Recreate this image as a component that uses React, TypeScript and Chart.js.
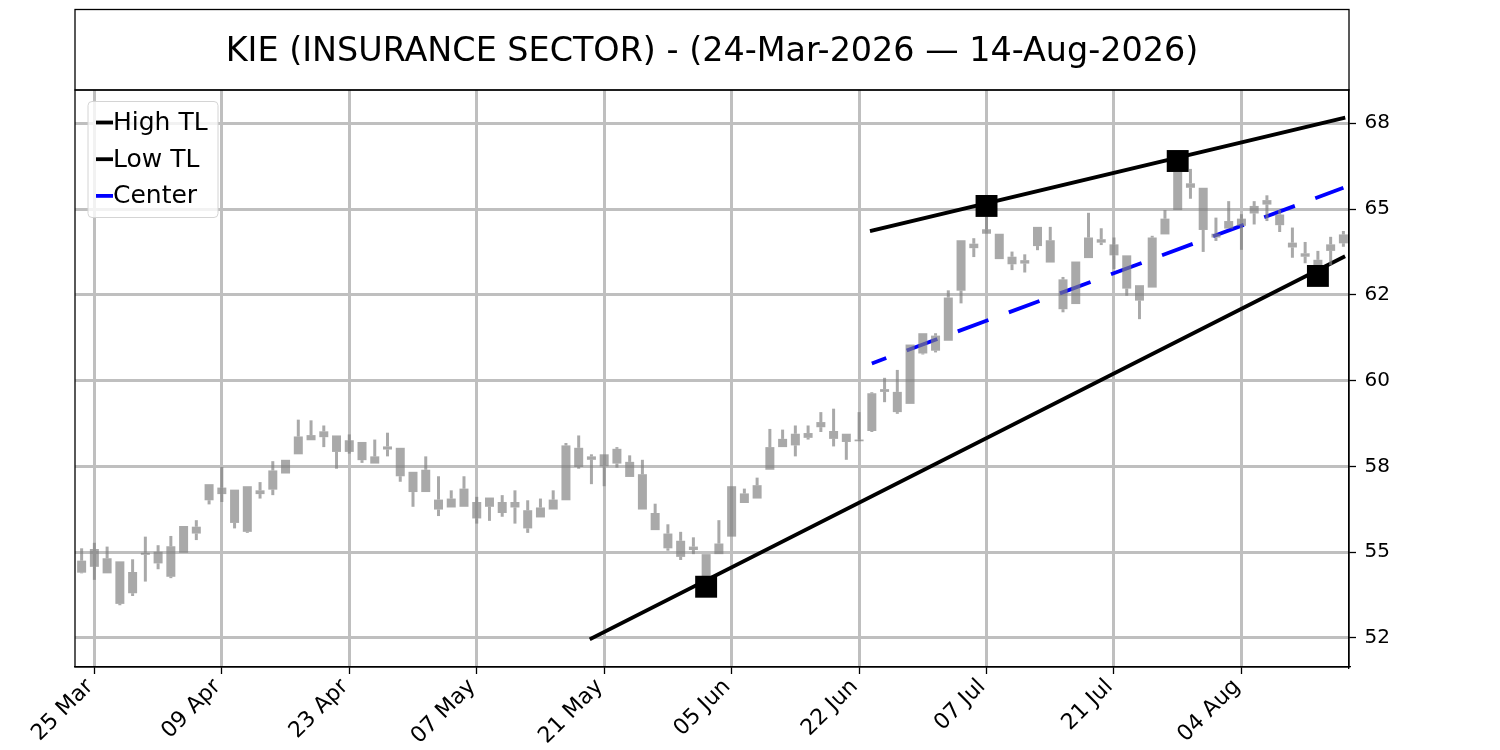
import React, { useEffect, useRef } from "react";
import { Chart, registerables } from "chart.js";

Chart.register(...registerables);

const TITLE = "KIE (INSURANCE SECTOR) - (24-Mar-2026 — 14-Aug-2026)";

const dates = [
  "24 Mar", "25 Mar", "26 Mar", "27 Mar", "30 Mar", "31 Mar",
  "01 Apr", "02 Apr", "06 Apr", "07 Apr", "08 Apr", "09 Apr", "10 Apr", "13 Apr", "14 Apr", "15 Apr", "16 Apr", "17 Apr", "20 Apr", "21 Apr", "22 Apr", "23 Apr", "24 Apr", "27 Apr", "28 Apr", "29 Apr", "30 Apr",
  "01 May", "04 May", "05 May", "06 May", "07 May", "08 May", "11 May", "12 May", "13 May", "14 May", "15 May", "18 May", "19 May", "20 May", "21 May", "22 May", "26 May", "27 May", "28 May", "29 May",
  "01 Jun", "02 Jun", "03 Jun", "04 Jun", "05 Jun", "08 Jun", "09 Jun", "10 Jun", "11 Jun", "12 Jun", "15 Jun", "16 Jun", "17 Jun", "18 Jun", "22 Jun", "23 Jun", "24 Jun", "25 Jun", "26 Jun", "29 Jun", "30 Jun",
  "01 Jul", "02 Jul", "06 Jul", "07 Jul", "08 Jul", "09 Jul", "10 Jul", "13 Jul", "14 Jul", "15 Jul", "16 Jul", "17 Jul", "20 Jul", "21 Jul", "22 Jul", "23 Jul", "24 Jul", "27 Jul", "28 Jul", "29 Jul", "30 Jul", "31 Jul",
  "03 Aug", "04 Aug", "05 Aug", "06 Aug", "07 Aug", "10 Aug", "11 Aug", "12 Aug", "13 Aug", "14 Aug",
];

const opens = [
  54.75, 55.09, 54.82, 54.73, 54.42, 54.98, 55.01, 55.17, 55.76, 55.74,
  56.98, 56.88, 56.82, 56.92, 56.80, 57.38, 57.69, 58.37, 58.41, 58.52,
  58.40, 58.26, 58.21, 57.79, 58.08, 58.04, 57.34, 57.40, 56.53, 56.56,
  56.85, 56.46, 56.59, 56.46, 56.46, 56.22, 56.30, 56.53, 58.11, 58.04,
  57.79, 57.85, 58.01, 57.63, 57.27, 56.14, 55.54, 55.33, 55.16, 54.94,
  55.25, 56.92, 56.71, 56.95, 58.06, 58.30, 58.45, 58.47, 58.79, 58.53,
  58.45, 58.28, 59.63, 59.75, 59.67, 61.05, 61.38, 61.31, 62.42, 64.09,
  63.99, 64.41, 64.28, 63.61, 63.51, 64.48, 64.09, 62.95, 63.47, 64.17,
  64.12, 63.97, 63.65, 62.78, 64.17, 64.72, 66.08, 65.75, 65.62, 64.28,
  64.65, 64.72, 65.09, 65.26, 64.84, 64.02, 63.71, 63.52, 63.97, 64.26,
];

const closes = [
  54.40, 54.57, 54.38, 53.49, 53.80, 54.92, 54.67, 54.28, 54.98, 55.54,
  56.51, 56.69, 55.85, 55.59, 56.69, 56.82, 57.29, 57.85, 58.26, 58.35,
  57.92, 57.92, 57.68, 57.58, 57.99, 57.21, 56.75, 56.75, 56.24, 56.30,
  56.32, 55.98, 56.32, 56.14, 56.30, 55.69, 56.01, 56.24, 56.51, 57.48,
  57.69, 57.50, 57.58, 57.19, 56.24, 55.64, 55.11, 54.86, 55.06, 54.30,
  54.94, 55.45, 56.43, 56.56, 57.40, 58.06, 58.11, 58.33, 58.64, 58.30,
  58.21, 58.23, 58.53, 59.67, 59.08, 59.32, 60.79, 60.87, 61.16, 62.62,
  63.86, 64.28, 63.54, 63.39, 63.41, 63.92, 63.44, 62.08, 62.23, 63.57,
  64.02, 63.65, 62.68, 62.33, 62.71, 64.26, 64.97, 65.62, 64.39, 64.17,
  64.43, 64.51, 64.87, 65.13, 64.53, 63.88, 63.61, 63.34, 63.78, 64.00,
];

const highs = [
  55.11, 55.27, 55.16, 54.73, 54.79, 55.45, 55.20, 55.47, 55.76, 55.93,
  56.98, 57.48, 56.82, 56.92, 57.04, 57.65, 57.69, 58.86, 58.84, 58.69,
  58.40, 58.43, 58.21, 58.28, 58.48, 58.04, 57.34, 57.79, 57.21, 56.80,
  57.21, 56.61, 56.59, 56.66, 56.80, 56.51, 56.56, 56.80, 58.18, 58.40,
  57.85, 57.85, 58.06, 57.82, 57.69, 56.41, 55.81, 55.59, 55.43, 54.94,
  55.93, 56.92, 56.85, 57.17, 58.59, 58.57, 58.69, 58.69, 59.08, 59.18,
  58.45, 59.08, 59.66, 60.08, 60.31, 61.05, 61.38, 61.38, 62.63, 64.09,
  64.15, 64.77, 64.28, 63.76, 63.68, 64.48, 64.48, 63.02, 63.47, 64.89,
  64.44, 64.17, 63.65, 62.78, 64.22, 64.97, 66.08, 66.17, 65.62, 64.75,
  65.23, 64.85, 65.23, 65.40, 64.97, 64.46, 64.04, 63.78, 64.19, 64.36,
];

const lows = [
  54.38, 54.19, 54.38, 53.45, 53.72, 54.14, 54.50, 54.24, 54.98, 55.35,
  56.39, 56.46, 55.69, 55.56, 56.56, 56.66, 57.29, 57.85, 58.26, 58.06,
  57.43, 57.87, 57.60, 57.58, 57.79, 57.05, 56.32, 56.75, 56.05, 56.30,
  56.32, 55.83, 55.91, 56.03, 55.83, 55.56, 56.01, 56.24, 56.51, 57.43,
  56.98, 56.92, 57.46, 57.19, 56.24, 55.64, 55.04, 54.77, 54.94, 54.30,
  54.94, 55.45, 56.43, 56.56, 57.40, 58.06, 57.79, 58.28, 58.50, 58.08,
  57.69, 58.23, 58.50, 59.37, 59.03, 59.32, 60.76, 60.82, 61.16, 62.25,
  63.60, 64.28, 63.54, 63.22, 63.15, 63.80, 63.44, 61.99, 62.23, 63.57,
  63.95, 63.25, 62.47, 61.79, 62.71, 64.26, 64.97, 65.30, 63.75, 64.07,
  64.43, 63.81, 64.55, 64.65, 64.33, 63.58, 63.42, 63.34, 63.36, 63.90,
];

const xTickIdx = [1, 11, 21, 31, 41, 51, 61, 71, 81, 91];
const yTickValues = [52.5, 55, 57.5, 60, 62.5, 65, 67.5];
const yTickLabels = ["52", "55", "58", "60", "62", "65", "68"];

const highTLx = [62, 99];
const highTLy = [64.37, 67.65];
const lowTLx = [40, 99];
const lowTLy = [52.48, 63.6];
const centerX = [62, 99];
const centerY = [60.5, 65.62];
const pivotX = [71, 86, 49, 97];
const pivotY = [65.09, 66.4, 53.99, 63.05];

const CANDLE = "rgba(128,128,128,0.68)";
const GRID = "#bfbfbf";
const FONT = "'DejaVu Sans'";

const framePlugin = {
  id: "frameTitleLegend",
  afterDraw(chart: any) {
    const { ctx, chartArea: a } = chart;
    ctx.save();
    ctx.strokeStyle = "#000";
    ctx.lineWidth = 1.3;
    ctx.strokeRect(a.left, a.top, a.right - a.left, a.bottom - a.top);
    // title box
    ctx.strokeRect(a.left, 9.5, a.right - a.left, a.top - 9.5);
    ctx.fillStyle = "#000";
    ctx.font = `33.4px ${FONT}`;
    ctx.textAlign = "center";
    ctx.textBaseline = "middle";
    ctx.fillText(TITLE, (a.left + a.right) / 2, (9.5 + a.top) / 2 + 3);

    // legend
    const entries = chart.data.datasets.filter((d: any) => d.inLegend);
    const bx = a.left + 13;
    const by = a.top + 11.5;
    const bw = 130;
    const bh = 116;
    ctx.beginPath();
    if (ctx.roundRect) ctx.roundRect(bx, by, bw, bh, 4);
    else ctx.rect(bx, by, bw, bh);
    ctx.fillStyle = "rgba(255,255,255,0.8)";
    ctx.fill();
    ctx.strokeStyle = "#d4d4d4";
    ctx.lineWidth = 1;
    ctx.stroke();
    ctx.font = `25px ${FONT}`;
    ctx.textAlign = "left";
    ctx.textBaseline = "middle";
    entries.forEach((d: any, i: number) => {
      const cy = by + 21 + i * 36.7;
      ctx.beginPath();
      ctx.moveTo(bx + 8, cy);
      ctx.lineTo(bx + 25, cy);
      ctx.strokeStyle = d.borderColor;
      ctx.lineWidth = 3.8;
      ctx.lineCap = "butt";
      ctx.stroke();
      ctx.fillStyle = "#000";
      ctx.fillText(d.label, bx + 25, cy + 1);
    });
    ctx.restore();
  },
};

export default function App() {
  const canvasRef = useRef<HTMLCanvasElement | null>(null);

  useEffect(() => {
    document.body.style.margin = "0";
    document.body.style.overflow = "hidden";
    Chart.defaults.font.family = FONT;
    Chart.defaults.color = "#000";
    const canvas = canvasRef.current;
    if (!canvas) return;

    const idx = dates.map((_, i) => i);
    const bodyTop = idx.map((i) => Math.max(opens[i], closes[i]));
    const bodyBot = idx.map((i) => Math.min(opens[i], closes[i]));

    const chart = new Chart(canvas, {
      type: "bar",
      data: {
        datasets: [
          {
            type: "line",
            label: "High TL",
            inLegend: true,
            data: highTLx.map((x, i) => ({ x, y: highTLy[i] })),
            borderColor: "#000000",
            borderWidth: 3.8,
            borderCapStyle: "square",
            pointRadius: 0,
            order: 3,
          },
          {
            type: "line",
            label: "Low TL",
            inLegend: true,
            data: lowTLx.map((x, i) => ({ x, y: lowTLy[i] })),
            borderColor: "#000000",
            borderWidth: 3.8,
            borderCapStyle: "square",
            pointRadius: 0,
            order: 3,
          },
          {
            type: "line",
            label: "Center",
            inLegend: true,
            data: centerX.map((x, i) => ({ x, y: centerY[i] })),
            borderColor: "#0000ff",
            borderWidth: 3.8,
            borderDash: [32.7, 21.8],
            borderDashOffset: 17.3,
            borderCapStyle: "butt",
            pointRadius: 0,
            order: 3,
          },
          {
            type: "bar",
            label: "wick-up",
            data: idx.map((i) => ({ x: i, y: [bodyTop[i], highs[i]] })),
            backgroundColor: CANDLE,
            borderWidth: 0,
            barThickness: 3,
            grouped: false,
            inflateAmount: 0,
            order: 2,
          },
          {
            type: "bar",
            label: "wick-down",
            data: idx.map((i) => ({ x: i, y: [lows[i], bodyBot[i]] })),
            backgroundColor: CANDLE,
            borderWidth: 0,
            barThickness: 3,
            grouped: false,
            inflateAmount: 0,
            order: 2,
          },
          {
            type: "bar",
            label: "body",
            data: idx.map((i) => ({ x: i, y: [bodyBot[i], bodyTop[i]] })),
            backgroundColor: CANDLE,
            borderWidth: 0,
            barThickness: 9,
            grouped: false,
            inflateAmount: 0,
            order: 2,
          },
          {
            type: "line",
            label: "pivots",
            data: pivotX.map((x, i) => ({ x, y: pivotY[i] })),
            showLine: false,
            pointStyle: "rect",
            pointRadius: 15.5,
            pointBackgroundColor: "#000000",
            pointBorderWidth: 0,
            order: 0,
          },
        ] as any,
      },
      options: {
        animation: false,
        responsive: true,
        maintainAspectRatio: false,
        events: [],
        layout: { padding: { left: 75, top: 90, right: 0, bottom: 0 } },
        plugins: {
          legend: { display: false },
          tooltip: { enabled: false },
          title: { display: false },
        },
        scales: {
          x: {
            type: "linear",
            min: -0.52,
            max: 99.44,
            offset: false,
            afterBuildTicks: (s: any) => {
              s.ticks = xTickIdx.map((v) => ({ value: v }));
            },
            afterFit: (s: any) => {
              s.height = 83;
            },
            grid: {
              color: GRID,
              lineWidth: 3,
              offset: false,
              tickColor: "#000",
              tickWidth: 1.3,
              tickLength: 7,
            },
            border: { display: true, color: "#000", width: 1.3 },
            ticks: {
              autoSkip: false,
              minRotation: 45,
              maxRotation: 45,
              padding: 0,
              labelOffset: -4.5,
              color: "#000",
              font: { size: 22, family: FONT },
              callback: (v: any) => dates[Number(v)] ?? "",
            },
          },
          y: {
            type: "linear",
            position: "right",
            min: 51.65,
            max: 68.47,
            afterBuildTicks: (s: any) => {
              s.ticks = yTickValues.map((v) => ({ value: v }));
            },
            afterFit: (s: any) => {
              s.width = 151;
            },
            grid: {
              color: GRID,
              lineWidth: 3,
              tickColor: "#000",
              tickWidth: 1.3,
              tickLength: 7,
            },
            border: { display: true, color: "#000", width: 1.3 },
            ticks: {
              padding: 8.5,
              color: "#000",
              font: { size: 20, family: FONT },
              callback: (_v: any, i: number) => yTickLabels[i],
            },
          },
        },
      } as any,
      plugins: [framePlugin],
    });

    return () => {
      chart.destroy();
    };
  }, []);

  return (
    <div style={{ width: 1500, height: 750, position: "relative" }}>
      <canvas ref={canvasRef} />
    </div>
  );
}
